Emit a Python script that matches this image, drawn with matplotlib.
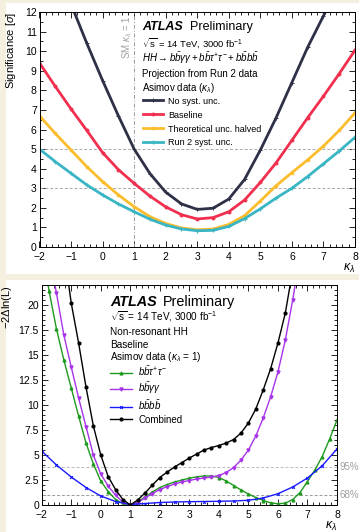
import numpy as np
import matplotlib
matplotlib.use("Agg")
import matplotlib.pyplot as plt
from matplotlib.patches import Rectangle
from matplotlib.ticker import MultipleLocator
import matplotlib.transforms as mtransforms

plt.rcParams['font.family'] = ['Liberation Sans', 'DejaVu Sans']
plt.rcParams['mathtext.fontset'] = 'custom'
plt.rcParams['mathtext.rm'] = 'Liberation Sans'
plt.rcParams['mathtext.it'] = 'Liberation Sans:italic'
plt.rcParams['mathtext.bf'] = 'Liberation Sans:bold'

# ---- top panel: significance vs kappa_lambda ----
k_top = [-2, -1.5, -1, -0.5, 0, 0.5, 1, 1.5, 2, 2.5, 3, 3.5, 4, 4.5, 5, 5.5, 6, 6.5, 7, 7.5, 8]
k_nosyst = [-1, -0.5, 0, 0.5, 1, 1.5, 2, 2.5, 3, 3.5, 4, 4.5, 5, 5.5, 6, 6.5, 7, 7.5]
sig_nosyst = [12.4, 10.4, 8.5, 6.7, 5.0, 3.75, 2.8, 2.2, 1.92, 1.98, 2.45, 3.45, 4.95, 6.6, 8.4, 10.2, 11.8, 13.4]
sig_baseline = [9.4, 8.2, 7.05, 5.95, 4.82, 3.95, 3.25, 2.6, 2.05, 1.65, 1.43, 1.5, 1.8, 2.4, 3.3, 4.3, 5.45, 6.6, 7.7, 8.85, 10.05]
sig_theohalf = [6.7, 5.8, 4.95, 4.1, 3.34, 2.66, 2.06, 1.55, 1.2, 0.97, 0.88, 0.92, 1.15, 1.6, 2.35, 3.13, 3.8, 4.45, 5.15, 5.95, 6.85]
sig_run2 = [5.0, 4.36, 3.76, 3.17, 2.66, 2.2, 1.8, 1.42, 1.12, 0.92, 0.83, 0.85, 1.05, 1.45, 1.95, 2.5, 3.0, 3.6, 4.25, 4.9, 5.6]

# ---- bottom panel: -2 Delta ln(L) vs kappa_lambda ----
k_tautau = [-2, -1.75, -1.5, -1.25, -1, -0.75, -0.5, -0.25, 0, 0.25, 0.5, 0.75, 1, 1.25, 1.5, 1.75, 2,
            2.25, 2.5, 2.75, 3, 3.25, 3.5, 3.75, 4, 4.25, 4.5, 4.75, 5, 5.25, 5.5, 5.75, 6, 6.25, 6.5,
            6.75, 7, 7.25, 7.5, 7.75, 8]
nll_tautau = [25.8, 21.4, 17.6, 14.5, 11.7, 8.9, 6.2, 4.1, 2.4, 1.35, 0.55, 0.15, 0.0, 0.3, 0.8, 1.3, 1.75,
              2.05, 2.3, 2.5, 2.68, 2.82, 2.9, 2.9, 2.75, 2.4, 1.95, 1.5, 1.1, 0.75, 0.45, 0.22, 0.12, 0.18, 0.55,
              1.25, 2.35, 3.5, 4.85, 6.6, 8.5]
k_gamgam = [-1.75, -1.5, -1.25, -1, -0.75, -0.5, -0.25, 0, 0.25, 0.5, 0.75, 1, 1.25, 1.5, 1.75, 2,
            2.25, 2.5, 2.75, 3, 3.25, 3.5, 3.75, 4, 4.25, 4.5, 4.75, 5, 5.25, 5.5, 5.75, 6, 6.25, 6.5, 6.75]
nll_gamgam = [25.0, 21.2, 17.0, 13.8, 10.7, 7.85, 5.0, 3.1, 1.9, 0.98, 0.3, 0.0, 0.25, 0.7, 1.15, 1.55,
              1.85, 2.1, 2.3, 2.45, 2.6, 2.7, 2.8, 2.95, 3.25, 3.75, 4.5, 5.5, 6.9, 8.7, 10.8, 13.3, 16.5, 20.5, 25.0]
k_4b = [-2, -1.5, -1, -0.5, 0, 0.5, 1, 1.5, 2, 2.5, 3, 3.5, 4, 4.5, 5, 5.5, 6, 6.5, 7, 7.5, 8]
nll_4b = [5.4, 4.0, 2.8, 1.75, 0.9, 0.35, 0.05, 0.15, 0.25, 0.3, 0.33, 0.35, 0.37, 0.4, 0.47, 0.7, 1.13, 1.8, 2.7, 3.93, 5.6]
k_comb = [-1.25, -1, -0.75, -0.5, -0.25, 0, 0.25, 0.5, 0.75, 1, 1.25, 1.5, 1.75, 2, 2.25, 2.5, 2.75, 3,
          3.25, 3.5, 3.75, 4, 4.25, 4.5, 4.75, 5, 5.25, 5.5, 5.75, 6, 6.25, 6.5]
nll_comb = [25.5, 20.2, 16.2, 11.8, 7.9, 5.0, 2.85, 1.55, 0.55, 0.0, 0.5, 1.2, 2.0, 2.75, 3.3, 3.8, 4.25, 4.7,
            5.1, 5.5, 5.75, 5.95, 6.2, 6.55, 7.2, 8.2, 9.6, 11.5, 13.6, 16.2, 19.2, 23.5]

bg = '#f5efe0'
fig = plt.figure(figsize=(3.59, 5.32), dpi=100, facecolor=bg)
fig.patches.append(Rectangle((6 / 359, 1 - 274 / 532), 353 / 359, 271 / 532,
                             transform=fig.transFigure, facecolor='white', edgecolor='none', zorder=-5))
fig.patches.append(Rectangle((6 / 359, 0), 353 / 359, 252 / 532,
                             transform=fig.transFigure, facecolor='white', edgecolor='none', zorder=-5))

ax1 = fig.add_axes([39.5 / 359, 1 - 247 / 532, 315.5 / 359, 235 / 532])
ax2 = fig.add_axes([41.7 / 359, 1 - 505 / 532, 295.3 / 359, 220 / 532])

kl = r'$\kappa_{\lambda}$'


def style(ax):
    ax.tick_params(which='both', direction='in', top=True, right=True, labelsize=7.5)
    ax.tick_params(axis='y', pad=2)
    ax.tick_params(axis='x', pad=3.5)
    ax.tick_params(which='major', length=4.5, width=0.6)
    ax.tick_params(which='minor', length=2.3, width=0.6)
    for s in ax.spines.values():
        s.set_linewidth(0.7)
    ax.xaxis.set_major_locator(MultipleLocator(1))
    ax.xaxis.set_minor_locator(MultipleLocator(0.2))


# top
ax1.set_xlim(-2, 8)
ax1.set_ylim(0, 12)
style(ax1)
ax1.yaxis.set_major_locator(MultipleLocator(1))
ax1.yaxis.set_minor_locator(MultipleLocator(0.5))
ax1.axhline(5, color='#aaaaaa', ls=(0, (3, 2)), lw=0.7)
ax1.axhline(3, color='#aaaaaa', ls=(0, (3, 2)), lw=0.7)
ax1.axvline(1, color='#999999', ls=(0, (4, 2, 1, 2)), lw=0.7)
ax1.text(0.277, 0.987, 'SM ' + kl + ' = 1', transform=ax1.transAxes, rotation=90,
         ha='center', va='top', color='#a0a0a0', fontsize=7)

ax1.plot(k_nosyst, sig_nosyst, color='#2e3047', lw=2.0, marker='+', ms=2.2, mew=0.7, label='No syst. unc.')
ax1.plot(k_top, sig_baseline, color='#f0304e', lw=2.0, marker='o', ms=1.8, label='Baseline')
ax1.plot(k_top, sig_theohalf, color='#fbbd2d', lw=2.0, marker='s', ms=2.0, label='Theoretical unc. halved')
ax1.plot(k_top, sig_run2, color='#3ab5c4', lw=2.0, marker='+', ms=2.6, mew=0.8, label='Run 2 syst. unc.')

ax1.set_ylabel(r'Significance [$\sigma$]', loc='top', fontsize=8, labelpad=5)
ax1.set_xlabel(kl, loc='right', fontsize=9, labelpad=0)

ax1.text(0.325, 0.936, 'ATLAS', transform=ax1.transAxes, fontsize=9, fontweight='bold',
         style='italic', va='center')
ax1.text(0.477, 0.936, 'Preliminary', transform=ax1.transAxes, fontsize=9, va='center')
ax1.text(0.325, 0.868, r'$\sqrt{\mathrm{s}}$ = 14 TeV, 3000 fb$^{-1}$', transform=ax1.transAxes,
         fontsize=6.8, va='center')
ax1.text(0.325, 0.804, r'$HH \rightarrow b\bar{b}\gamma\gamma + b\bar{b}\tau^{+}\tau^{-} + b\bar{b}b\bar{b}$',
         transform=ax1.transAxes, fontsize=7, va='center')
ax1.text(0.325, 0.738, 'Projection from Run 2 data', transform=ax1.transAxes, fontsize=7, va='center')
ax1.text(0.325, 0.677, 'Asimov data (' + kl + ')', transform=ax1.transAxes, fontsize=7, va='center')
ax1.legend(loc='upper left', bbox_to_anchor=(0.328, 0.64), frameon=False, fontsize=6.5,
           borderpad=0, borderaxespad=0, handlelength=2.2, handletextpad=0.6, labelspacing=0.55)

# bottom
ax2.set_xlim(-2, 8)
ax2.set_ylim(0, 22)
style(ax2)
ax2.yaxis.set_major_locator(MultipleLocator(2.5))
ax2.yaxis.set_minor_locator(MultipleLocator(0.5))
ax2.yaxis.set_major_formatter(matplotlib.ticker.FuncFormatter(lambda v, p: f'{v:g}'))
ax2.axhline(3.84, color='#bbbbbb', ls=(0, (3, 2)), lw=0.7)
ax2.axhline(1.0, color='#999999', ls=(0, (3, 2)), lw=0.7)
tr = mtransforms.blended_transform_factory(ax2.transAxes, ax2.transData)
ax2.text(1.01, 3.84, '95%', transform=tr, color='#a0a0a0', fontsize=7, va='center')
ax2.text(1.01, 1.0, '68%', transform=tr, color='#a0a0a0', fontsize=7, va='center')

ax2.plot(k_tautau, nll_tautau, color='#1e9a1e', lw=1.0, marker='^', ms=2.0,
         label=r'$b\bar{b}\tau^{+}\tau^{-}$')
ax2.plot(k_gamgam, nll_gamgam, color='#a834e8', lw=1.0, marker='v', ms=2.2,
         label=r'$b\bar{b}\gamma\gamma$')
ax2.plot(k_4b, nll_4b, color='#1a1aff', lw=1.0, marker='x', ms=2.0, mew=0.8,
         label=r'$b\bar{b}b\bar{b}$')
ax2.plot(k_comb, nll_comb, color='black', lw=1.0, marker='o', ms=2.0, label='Combined')

ax2.set_ylabel(r'$-2\Delta$ln(L)', loc='top', fontsize=8, labelpad=3)
ax2.set_xlabel(kl, loc='right', fontsize=9, labelpad=0)

ax2.text(0.231, 0.923, 'ATLAS', transform=ax2.transAxes, fontsize=10.4, fontweight='bold',
         style='italic', va='center')
ax2.text(0.41, 0.923, 'Preliminary', transform=ax2.transAxes, fontsize=10.4, va='center')
ax2.text(0.231, 0.855, r'$\sqrt{\mathrm{s}}$ = 14 TeV, 3000 fb$^{-1}$', transform=ax2.transAxes,
         fontsize=7.2, va='center')
ax2.text(0.231, 0.786, 'Non-resonant HH', transform=ax2.transAxes, fontsize=7.2, va='center')
ax2.text(0.231, 0.727, 'Baseline', transform=ax2.transAxes, fontsize=7.2, va='center')
ax2.text(0.231, 0.673, 'Asimov data (' + kl + ' = 1)', transform=ax2.transAxes, fontsize=7.2, va='center')
ax2.legend(loc='upper left', bbox_to_anchor=(0.231, 0.64), frameon=False, fontsize=7,
           borderpad=0, borderaxespad=0, handlelength=2.3, handletextpad=0.6, labelspacing=0.22)

fig.savefig('out.png', dpi=100, facecolor=bg)
